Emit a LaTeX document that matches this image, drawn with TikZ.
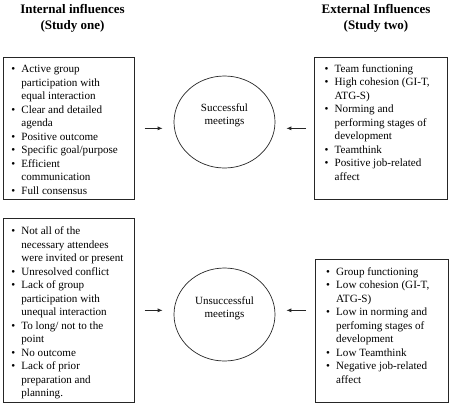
\documentclass[tikz,border=0pt]{standalone}
\usepackage{fontspec}
\setmainfont{Liberation Serif}
\usetikzlibrary{arrows.meta,calc,shapes.geometric}
\newcommand{\bul}{\makebox[10pt][l]{\textbullet}}
\begin{document}
\begin{tikzpicture}[x=1pt,y=-1pt,
  frame/.style={draw=black!85, line width=0.7pt, inner sep=0pt, anchor=north west},
  listtext/.style={inner sep=0pt, anchor=north west,
    font=\fontsize{11.1}{13.5}\selectfont},
  oval/.style={draw=black!85, line width=0.7pt, ellipse, inner sep=0pt, minimum width=101pt},
  ovaltext/.style={inner sep=0pt, anchor=north, align=center, font=\fontsize{11}{13.25}\selectfont},
  title/.style={inner sep=0pt, anchor=north, align=center, font=\fontsize{13}{16}\selectfont\bfseries},
  arr/.style={draw=black!85, line width=0.8pt, -{Latex[length=5pt,width=4pt]}}]
\useasboundingbox (0,0) rectangle (452,407);
% titles
\node[title] (t1) at (72.5,1.8) {\strut Internal influences\\(Study one)};
\node[title] (t2) at (376,1.8) {\strut External Influences\\(Study two)};
% boxes
\node[frame, minimum width=131pt, minimum height=142pt] (tl) at (3,57) {};
\node[frame, minimum width=133pt, minimum height=142pt] (tr) at (314,57) {};
\node[frame, minimum width=131pt, minimum height=184pt] (bl) at (3,218) {};
\node[frame, minimum width=133pt, minimum height=143pt] (br) at (315,259) {};
% lists
\node[listtext] (tlt) at (11.2,63) {%
\begin{tabular}{@{}l@{}l@{}}
\bul & Active group\\
 & participation with\\
 & equal interaction\\
\bul & Clear and detailed\\
 & agenda\\
\bul & Positive outcome\\
\bul & Specific goal/purpose\\
\bul & Efficient\\
 & communication\\
\bul & Full consensus
\end{tabular}};
\node[listtext] (trt) at (324.5,62.5) {%
\begin{tabular}{@{}l@{}l@{}}
\bul & Team functioning\\
\bul & High cohesion (GI-T,\\
 & ATG-S)\\
\bul & Norming and\\
 & performing stages of\\
 & development\\
\bul & Teamthink\\
\bul & Positive job-related\\
 & affect
\end{tabular}};
\node[listtext] (blt) at (11.2,225) {%
\begin{tabular}{@{}l@{}l@{}}
\bul & Not all of the\\
 & necessary attendees\\
 & were invited or present\\
\bul & Unresolved conflict\\
\bul & Lack of group\\
 & participation with\\
 & unequal interaction\\
\bul & To long/ not to the\\
 & point\\
\bul & No outcome\\
\bul & Lack of prior\\
 & preparation and\\
 & planning.
\end{tabular}};
\node[listtext] (brt) at (326,265.5) {%
\begin{tabular}{@{}l@{}l@{}}
\bul & Group functioning\\
\bul & Low cohesion (GI-T,\\
 & ATG-S)\\
\bul & Low in norming and\\
 & perfoming stages of\\
 & development\\
\bul & Low Teamthink\\
\bul & Negative job-related\\
 & affect
\end{tabular}};
% ellipses
\node[oval, minimum height=92pt] (succ) at (224.5,122) {};
\node[oval, minimum height=93pt] (uns) at (224.5,314.5) {};
\node[ovaltext] (succt) at ($(succ.center)+(0,-19.8)$) {\strut Successful\\meetings};
\node[ovaltext] (unst) at ($(uns.center)+(0,-19.3)$) {\strut Unsuccessful\\meetings};
% arrows
\draw[arr, shorten <=10pt, shorten >=11pt] (tl.east) -- (tl.east -| succ.west);
\draw[arr, shorten <=8pt, shorten >=11pt] (tr.west) -- (tr.west -| succ.east);
\draw[arr, shorten <=10pt, shorten >=11pt] (bl.east) -- (bl.east -| uns.west);
\draw[arr, shorten <=9pt, shorten >=11pt] (br.west |- bl.east) -- (bl.east -| uns.east);
\end{tikzpicture}
\end{document}
